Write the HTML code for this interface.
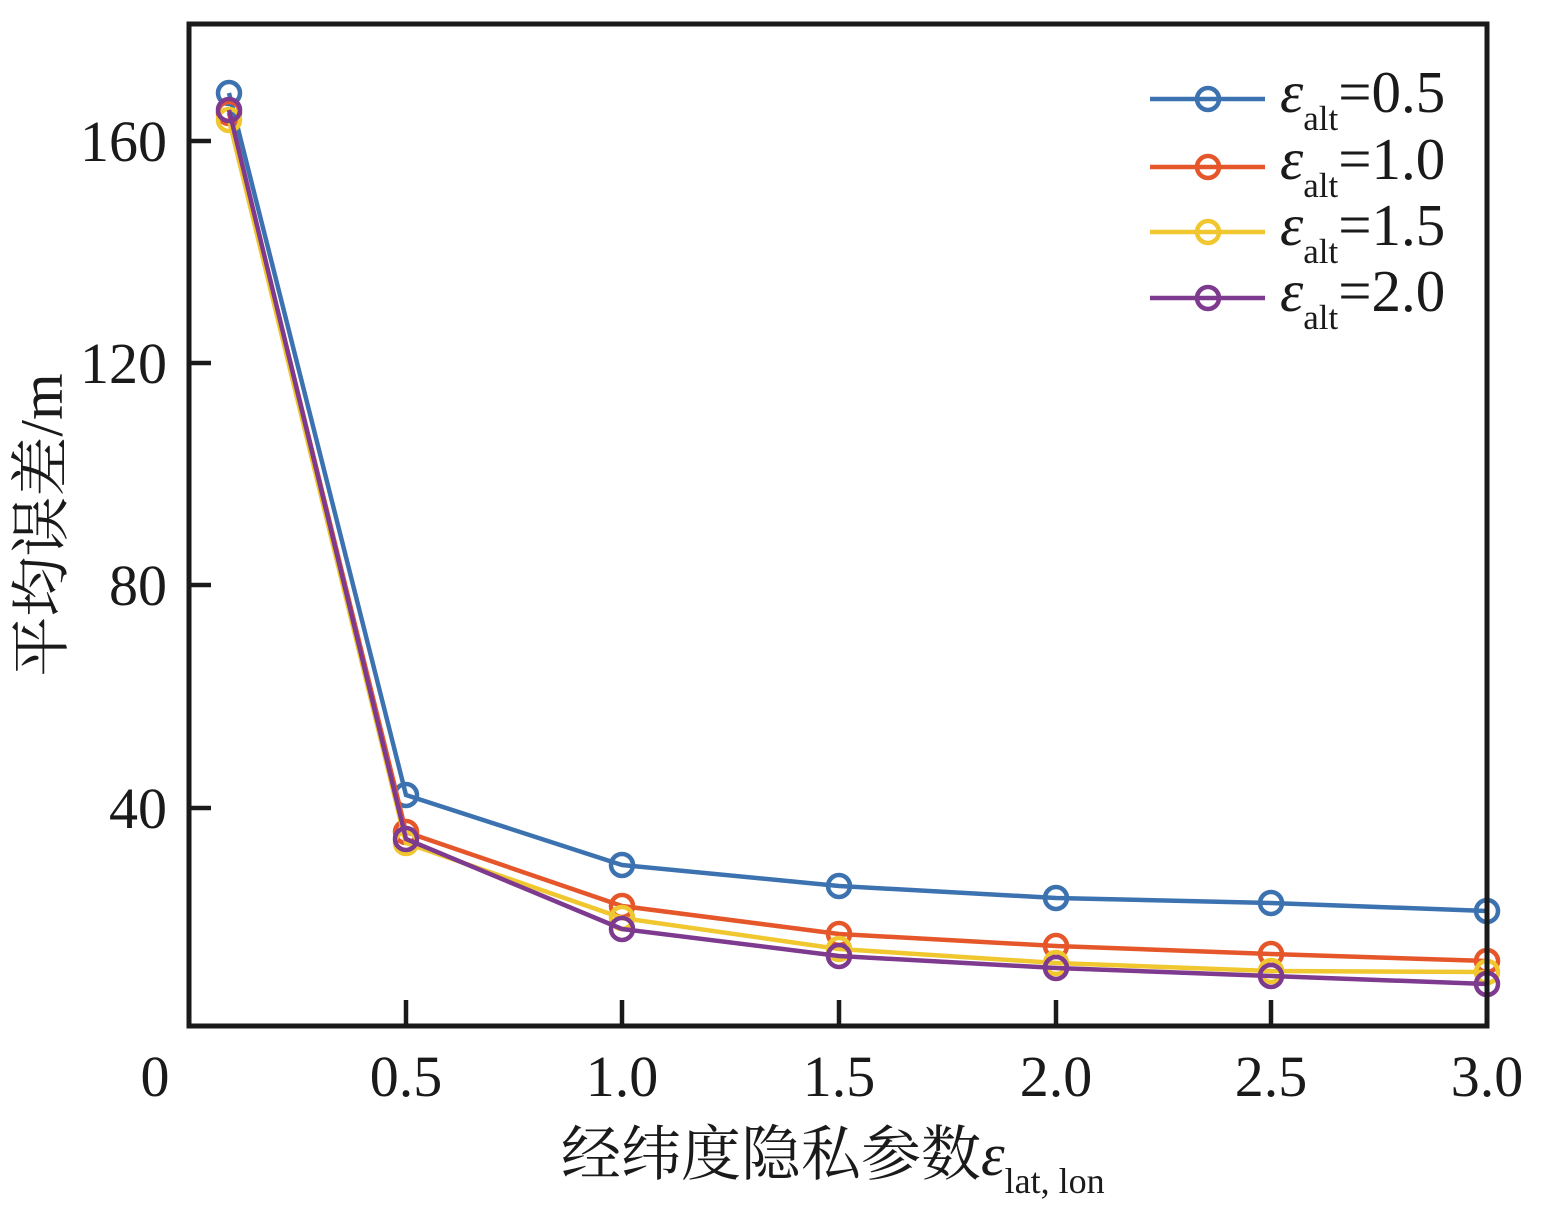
<!DOCTYPE html>
<html><head><meta charset="utf-8"><style>
body{margin:0;background:#fff}
svg text{font-family:"Liberation Serif","Noto Serif CJK SC",serif;fill:#1a1a1a}
</style></head><body>
<svg width="1546" height="1209" viewBox="0 0 1546 1209" xmlns="http://www.w3.org/2000/svg">
<g stroke="#1a1a1a" stroke-width="4.5">
<line x1="189" y1="141" x2="211" y2="141"/><line x1="189" y1="363" x2="211" y2="363"/>
<line x1="189" y1="585" x2="211" y2="585"/><line x1="189" y1="808" x2="211" y2="808"/>
<line x1="406" y1="1026" x2="406" y2="1000"/><line x1="622" y1="1026" x2="622" y2="1000"/>
<line x1="839" y1="1026" x2="839" y2="1000"/><line x1="1056" y1="1026" x2="1056" y2="1000"/>
<line x1="1271" y1="1026" x2="1271" y2="1000"/>
</g>
<g fill="none" stroke-width="4.5">
<g stroke="#3c72b0"><polyline points="229,93 406,795 622,865 839,886 1056,898 1271,903 1487,911"/>
<circle cx="229" cy="93" r="11"/><circle cx="406" cy="795" r="11"/><circle cx="622" cy="865" r="11"/><circle cx="839" cy="886" r="11"/><circle cx="1056" cy="898" r="11"/><circle cx="1271" cy="903" r="11"/><circle cx="1487" cy="911" r="11"/></g>
<g stroke="#e5572a"><polyline points="229,113 406,832 622,906 839,934 1056,946 1271,954 1487,961"/>
<circle cx="229" cy="113" r="11"/><circle cx="406" cy="832" r="11"/><circle cx="622" cy="906" r="11"/><circle cx="839" cy="934" r="11"/><circle cx="1056" cy="946" r="11"/><circle cx="1271" cy="954" r="11"/><circle cx="1487" cy="961" r="11"/></g>
<g stroke="#f0c72e"><polyline points="229,120 406,843 622,918 839,949 1056,963 1271,971 1487,972"/>
<circle cx="229" cy="120" r="11"/><circle cx="406" cy="843" r="11"/><circle cx="622" cy="918" r="11"/><circle cx="839" cy="949" r="11"/><circle cx="1056" cy="963" r="11"/><circle cx="1271" cy="971" r="11"/><circle cx="1487" cy="972" r="11"/></g>
<g stroke="#7e3a8e"><polyline points="229,110 406,839 622,929 839,956 1056,968 1271,976 1487,984"/>
<circle cx="229" cy="110" r="11"/><circle cx="406" cy="839" r="11"/><circle cx="622" cy="929" r="11"/><circle cx="839" cy="956" r="11"/><circle cx="1056" cy="968" r="11"/><circle cx="1271" cy="976" r="11"/><circle cx="1487" cy="984" r="11"/></g>
</g>
<rect x="189" y="24" width="1298" height="1002" fill="none" stroke="#1a1a1a" stroke-width="5"/>
<g font-size="58" text-anchor="end">
<text x="167" y="161">160</text><text x="167" y="383">120</text><text x="167" y="605">80</text><text x="167" y="828">40</text>
</g>
<g font-size="58" text-anchor="middle">
<text x="155" y="1096">0</text><text x="406" y="1096">0.5</text><text x="622" y="1096">1.0</text><text x="839" y="1096">1.5</text><text x="1056" y="1096">2.0</text><text x="1271" y="1096">2.5</text><text x="1487" y="1096">3.0</text>
</g>
<text x="561" y="1175" font-size="60">经纬度隐私参数<tspan font-style="italic">ε</tspan><tspan font-size="36" dy="18">lat, lon</tspan></text>
<text transform="translate(62,525) rotate(-90)" font-size="60" text-anchor="middle">平均误差/m</text>
<g fill="none" stroke-width="4.5">
<g stroke="#3c72b0"><line x1="1150" y1="99" x2="1265" y2="99"/><circle cx="1208" cy="99" r="11"/></g>
<g stroke="#e5572a"><line x1="1150" y1="167" x2="1265" y2="167"/><circle cx="1208" cy="167" r="11"/></g>
<g stroke="#f0c72e"><line x1="1150" y1="232" x2="1265" y2="232"/><circle cx="1208" cy="232" r="11"/></g>
<g stroke="#7e3a8e"><line x1="1150" y1="298" x2="1265" y2="298"/><circle cx="1208" cy="298" r="11"/></g>
</g>
<g font-size="59">
<text x="1280" y="112"><tspan font-style="italic">ε</tspan><tspan font-size="35" dy="18">alt</tspan><tspan dy="-18">=0.5</tspan></text>
<text x="1280" y="179"><tspan font-style="italic">ε</tspan><tspan font-size="35" dy="18">alt</tspan><tspan dy="-18">=1.0</tspan></text>
<text x="1280" y="245"><tspan font-style="italic">ε</tspan><tspan font-size="35" dy="18">alt</tspan><tspan dy="-18">=1.5</tspan></text>
<text x="1280" y="311"><tspan font-style="italic">ε</tspan><tspan font-size="35" dy="18">alt</tspan><tspan dy="-18">=2.0</tspan></text>
</g>
</svg>
</body></html>
